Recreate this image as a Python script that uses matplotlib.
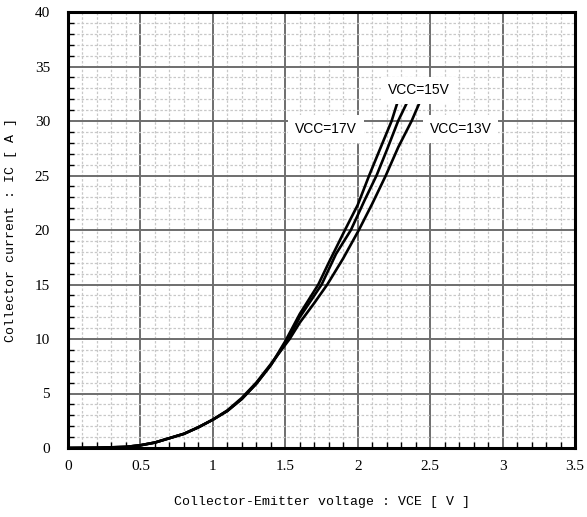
import matplotlib
matplotlib.use("Agg")
import matplotlib.pyplot as plt
from matplotlib.ticker import MultipleLocator

# Shared low-voltage part
v_low = [0.0, 0.2, 0.4, 0.5, 0.6, 0.7, 0.8, 0.9, 1.0, 1.1, 1.2, 1.3, 1.4]
i_low = [0.0, 0.02, 0.1, 0.25, 0.5, 0.9, 1.3, 1.9, 2.6, 3.4, 4.5, 5.9, 7.6]

v17 = v_low + [1.5, 1.6, 1.728, 1.8, 1.912, 2.0, 2.079, 2.15, 2.234, 2.279]
i17 = i_low + [9.8, 12.3, 15.0, 17.0, 20.0, 22.3, 25.0, 27.3, 30.0, 31.9]

v15 = v_low + [1.52, 1.6, 1.751, 1.85, 1.953, 2.05, 2.13, 2.2, 2.279, 2.348]
i15 = i_low + [10.0, 12.0, 15.0, 17.8, 20.0, 22.8, 25.0, 27.3, 30.0, 31.9]

v13 = [0.0, 0.2, 0.4, 0.5, 0.6, 0.7, 0.8, 0.9, 1.0, 1.1, 1.2, 1.3, 1.4,
       1.53, 1.6, 1.7, 1.79, 1.9, 2.008, 2.1, 2.194, 2.28, 2.372, 2.434]
i13 = [0.0, 0.02, 0.1, 0.25, 0.5, 0.9, 1.3, 1.9, 2.6, 3.45, 4.6, 6.0, 7.7,
       10.0, 11.5, 13.3, 15.0, 17.4, 20.0, 22.4, 25.0, 27.6, 30.0, 31.9]

labels = ["VCC=17V", "VCC=15V", "VCC=13V"]
label_pos = [(1.78, 29.3), (2.42, 32.8), (2.71, 29.3)]

x_ticks = [0, 0.5, 1, 1.5, 2, 2.5, 3, 3.5]
x_ticklabels = ["0", "0.5", "1", "1.5", "2", "2.5", "3", "3.5"]
y_ticks = [0, 5, 10, 15, 20, 25, 30, 35, 40]

mono = "Liberation Mono"
serif = "Liberation Serif"

fig = plt.figure(figsize=(5.87, 5.17), dpi=100)
ax = fig.add_axes([68/587, 1-448/517, 507/587, 436/517])

ax.set_xlim(0, 3.5)
ax.set_ylim(0, 40)
ax.xaxis.set_minor_locator(MultipleLocator(0.1))
ax.yaxis.set_minor_locator(MultipleLocator(1))
ax.set_xticks(x_ticks)
ax.set_xticklabels(x_ticklabels, family=serif, fontsize=11)
ax.set_yticks(y_ticks)
ax.set_yticklabels([str(t) for t in y_ticks], family=serif, fontsize=11)

ax.grid(which="minor", color="#c8c8c8", linestyle=(0, (2, 1.5)), linewidth=0.9)
ax.grid(which="major", color="#6e6e6e", linestyle="-", linewidth=1.4)
ax.set_axisbelow(True)

ax.tick_params(which="major", length=0, pad=13)
ax.tick_params(axis="x", which="major", pad=9)
ax.tick_params(which="minor", direction="in", length=4, width=1, color="black")

for s in ax.spines.values():
    s.set_linewidth(2.2)
    s.set_color("black")

for v, i in [(v17, i17), (v15, i15), (v13, i13)]:
    ax.plot(v, i, color="black", linewidth=1.9, solid_capstyle="butt", zorder=3)

for lab, (x, y) in zip(labels, label_pos):
    ax.text(x, y, lab, family="Liberation Sans", fontsize=10, ha="center", va="center",
            zorder=4, bbox=dict(facecolor="white", edgecolor="none", pad=5))

ax.set_xlabel("Collector-Emitter voltage : VCE [ V ]", family=mono, fontsize=9.5, labelpad=16)
ax.set_ylabel("Collector current : IC [ A ]", family=mono, fontsize=9.5, labelpad=13)

fig.savefig("out.png", dpi=100)
